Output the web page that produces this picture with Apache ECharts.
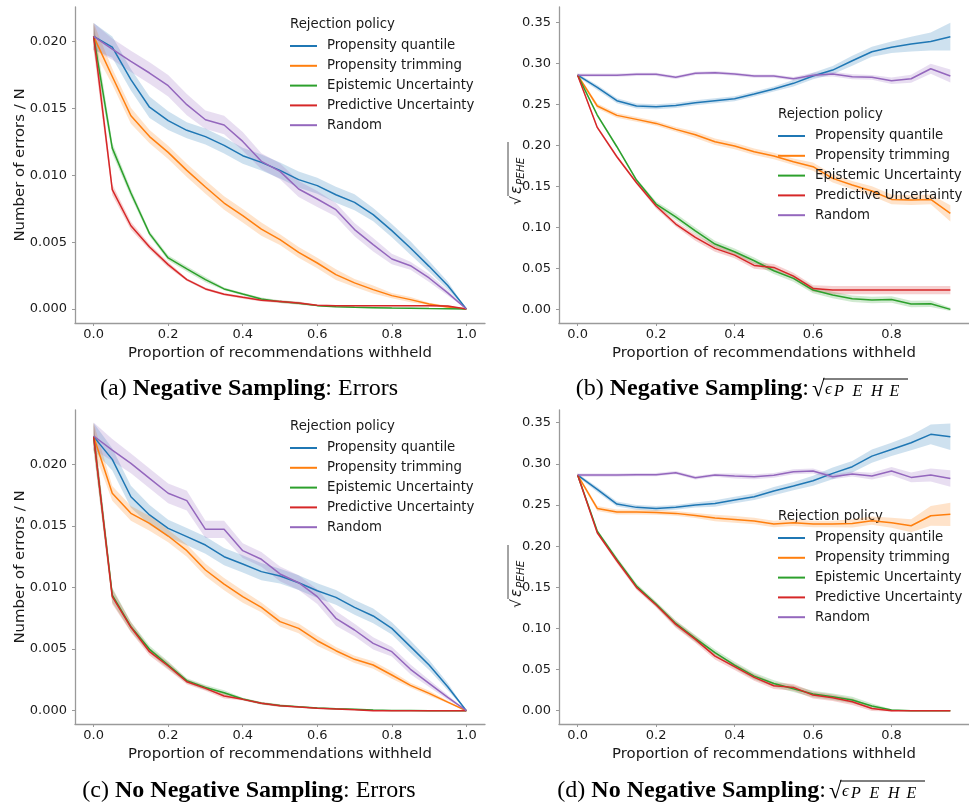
<!DOCTYPE html>
<html>
<head>
<meta charset="utf-8">
<title>Rejection policy</title>
<script src="https://cdn.jsdelivr.net/npm/echarts@6/dist/echarts.min.js"></script>
<style>
  html, body { margin: 0; padding: 0; background: #fff; }
  #chart { width: 969px; height: 811px; }
</style>
</head>
<body>
<div id="chart"></div>
<script>
// x positions
var xsErr = [0, 0.05, 0.1, 0.15, 0.2, 0.25, 0.3, 0.35, 0.4, 0.45, 0.5, 0.55, 0.6, 0.65, 0.7, 0.75, 0.8, 0.85, 0.9, 0.95, 1.0];
var xsPehe = [0, 0.05, 0.1, 0.15, 0.2, 0.25, 0.3, 0.35, 0.4, 0.45, 0.5, 0.55, 0.6, 0.65, 0.7, 0.75, 0.8, 0.85, 0.9, 0.95];

var policyNames = ['Propensity quantile', 'Propensity trimming', 'Epistemic Uncertainty', 'Predictive Uncertainty', 'Random'];

// tick labels
var xTicksErr = [0, 0.2, 0.4, 0.6, 0.8, 1.0];
var xTicksPehe = [0, 0.2, 0.4, 0.6, 0.8];
var yTicksErr = [0, 0.005, 0.01, 0.015, 0.02];
var yTicksPehe = [0, 0.05, 0.1, 0.15, 0.2, 0.25, 0.3, 0.35];

// (a) Negative Sampling: Errors
var aQuantile   = [0.0204, 0.0196, 0.01716, 0.0151, 0.0141, 0.01337, 0.0129, 0.01224, 0.01147, 0.01097, 0.01037, 0.00968, 0.00923, 0.00855, 0.00798, 0.00706, 0.00586, 0.00456, 0.00319, 0.00175, 0];
var aTrimming   = [0.0204, 0.0174, 0.01446, 0.0129, 0.01172, 0.01037, 0.00913, 0.00793, 0.00698, 0.00598, 0.00519, 0.00424, 0.00344, 0.00257, 0.00195, 0.00145, 0.001, 0.0007, 0.00037, 0.00015, 0];
var aEpistemic  = [0.0204, 0.01204, 0.00868, 0.00564, 0.00382, 0.003, 0.0022, 0.0015, 0.00112, 0.00075, 0.00055, 0.00042, 0.00025, 0.00017, 0.00012, 0.0001, 0.00007, 0.00005, 0.00003, 0.00002, 0];
var aPredictive = [0.0204, 0.00893, 0.00623, 0.00464, 0.00332, 0.0022, 0.0015, 0.0011, 0.00087, 0.00065, 0.00055, 0.00045, 0.00027, 0.00025, 0.00025, 0.00025, 0.00025, 0.00025, 0.00025, 0.00022, 0];
var aRandom     = [0.0204, 0.01945, 0.01853, 0.01766, 0.01671, 0.01529, 0.01416, 0.01377, 0.01254, 0.01105, 0.0103, 0.00898, 0.00823, 0.00743, 0.00594, 0.00481, 0.00374, 0.00324, 0.00232, 0.0012, 0];
// confidence band half widths
var aQuantileBand   = [0.001, 0.0008, 0.0008, 0.0008, 0.0007, 0.0006, 0.0006, 0.0006, 0.0006, 0.0006, 0.0006, 0.0006, 0.0006, 0.0006, 0.0006, 0.0005, 0.0005, 0.0005, 0.0004, 0.0003, 0];
var aTrimmingBand   = [0.001, 0.0006, 0.0006, 0.0005, 0.0005, 0.0005, 0.0005, 0.0005, 0.0005, 0.0005, 0.0004, 0.0004, 0.0004, 0.0004, 0.0003, 0.0003, 0.0002, 0.0002, 0.0001, 0.0001, 0];
var aEpistemicBand  = [0.001, 0.0004, 0.0003, 0.0002, 0.0002, 0.0002, 0.0002, 0.0001, 0.0001, 0.0001, 0.0001, 0.0001, 0.00005, 0.00005, 0.00005, 0.00005, 0.00005, 0.00005, 0.00003, 0.00002, 0];
var aPredictiveBand = [0.001, 0.0004, 0.0003, 0.0002, 0.0002, 0.0001, 0.0001, 0.0001, 0.0001, 0.0001, 0.0001, 0.0001, 0.00005, 0.00005, 0.00005, 0.00005, 0.00005, 0.00005, 0.00005, 0.00005, 0];
var aRandomBand     = [0.001, 0.0008, 0.0008, 0.0008, 0.0008, 0.0008, 0.0007, 0.0007, 0.0007, 0.0006, 0.0006, 0.0006, 0.0006, 0.0005, 0.0005, 0.0005, 0.0004, 0.0003, 0.0003, 0.0002, 0];

// (b) Negative Sampling: sqrt PEHE
var bQuantile   = [0.286, 0.271, 0.2548, 0.2483, 0.2475, 0.249, 0.2523, 0.2548, 0.2572, 0.263, 0.269, 0.276, 0.2849, 0.2922, 0.3036, 0.3146, 0.32, 0.324, 0.3272, 0.333];
var bTrimming   = [0.286, 0.2483, 0.2369, 0.232, 0.2271, 0.2198, 0.2133, 0.2047, 0.1994, 0.1925, 0.1872, 0.1803, 0.1742, 0.16, 0.1518, 0.1445, 0.1343, 0.1335, 0.1343, 0.1172];
var bEpistemic  = [0.286, 0.2373, 0.1986, 0.1579, 0.1286, 0.1131, 0.096, 0.0798, 0.0704, 0.0594, 0.0472, 0.0379, 0.0236, 0.0175, 0.013, 0.0114, 0.0122, 0.0065, 0.0069, 0.0];
var bPredictive = [0.286, 0.2222, 0.1864, 0.1547, 0.1262, 0.1042, 0.0879, 0.0745, 0.0663, 0.0537, 0.0513, 0.0407, 0.0256, 0.0236, 0.0236, 0.0236, 0.0236, 0.0236, 0.0236, 0.0236];
var bRandom     = [0.286, 0.286, 0.286, 0.287, 0.287, 0.2833, 0.2882, 0.289, 0.2873, 0.2849, 0.2849, 0.2816, 0.286, 0.2873, 0.2841, 0.2833, 0.2792, 0.2816, 0.2938, 0.2849];
var bQuantileBand   = [0.002, 0.003, 0.003, 0.003, 0.003, 0.003, 0.003, 0.003, 0.003, 0.003, 0.003, 0.004, 0.004, 0.005, 0.006, 0.006, 0.007, 0.009, 0.011, 0.017];
var bTrimmingBand   = [0.002, 0.003, 0.003, 0.003, 0.003, 0.003, 0.004, 0.004, 0.004, 0.004, 0.004, 0.004, 0.005, 0.005, 0.005, 0.006, 0.006, 0.006, 0.006, 0.01];
var bEpistemicBand  = [0.002, 0.002, 0.002, 0.002, 0.003, 0.004, 0.004, 0.004, 0.004, 0.004, 0.004, 0.004, 0.004, 0.004, 0.004, 0.004, 0.004, 0.004, 0.004, 0.002];
var bPredictiveBand = [0.002, 0.002, 0.002, 0.002, 0.003, 0.003, 0.004, 0.004, 0.004, 0.004, 0.004, 0.004, 0.004, 0.005, 0.005, 0.005, 0.005, 0.005, 0.005, 0.005];
var bRandomBand     = [0.002, 0.002, 0.002, 0.002, 0.002, 0.002, 0.002, 0.002, 0.002, 0.002, 0.002, 0.002, 0.003, 0.003, 0.003, 0.003, 0.004, 0.005, 0.006, 0.008];

// (c) No Negative Sampling: Errors
var cQuantile   = [0.02225, 0.0204, 0.01737, 0.01589, 0.0148, 0.01413, 0.01345, 0.0125, 0.01191, 0.01129, 0.01093, 0.01039, 0.00974, 0.0092, 0.00839, 0.00769, 0.00668, 0.0052, 0.00371, 0.00195, 0];
var cTrimming   = [0.02225, 0.01765, 0.01602, 0.01521, 0.01418, 0.01299, 0.01142, 0.01028, 0.00926, 0.00839, 0.00723, 0.00668, 0.00568, 0.00487, 0.00417, 0.00371, 0.0029, 0.00206, 0.00141, 0.0007, 0];
var cEpistemic  = [0.02225, 0.00939, 0.00682, 0.00498, 0.00371, 0.00244, 0.00189, 0.00146, 0.00095, 0.0006, 0.00043, 0.00032, 0.00022, 0.00016, 0.00011, 0.00005, 0.00002, 0.00001, 0, 0, 0];
var cPredictive = [0.02225, 0.00926, 0.00677, 0.00479, 0.00363, 0.00235, 0.00181, 0.00119, 0.00092, 0.0006, 0.00041, 0.0003, 0.00019, 0.00014, 0.00008, 0, 0, 0, 0, 0, 0];
var cRandom     = [0.0223, 0.02116, 0.02008, 0.01886, 0.01765, 0.01705, 0.01472, 0.01472, 0.01299, 0.01229, 0.0111, 0.01039, 0.00926, 0.0075, 0.00655, 0.00547, 0.00479, 0.00336, 0.00222, 0.00108, 0];
var cQuantileBand   = [0.0011, 0.0009, 0.0009, 0.0008, 0.0007, 0.0007, 0.0007, 0.0007, 0.0007, 0.0007, 0.0006, 0.0006, 0.0006, 0.0006, 0.0006, 0.0006, 0.0005, 0.0005, 0.0004, 0.0003, 0];
var cTrimmingBand   = [0.0011, 0.0006, 0.0006, 0.0006, 0.0005, 0.0005, 0.0005, 0.0005, 0.0005, 0.0004, 0.0004, 0.0004, 0.0004, 0.0003, 0.0003, 0.0003, 0.0003, 0.0002, 0.0002, 0.0001, 0];
var cEpistemicBand  = [0.0011, 0.0006, 0.0004, 0.0003, 0.0003, 0.0002, 0.0002, 0.0002, 0.0001, 0.0001, 0.0001, 0.00005, 0.00005, 0.00005, 0.00005, 0.00003, 0.00002, 0.00001, 0, 0, 0];
var cPredictiveBand = [0.0011, 0.0006, 0.0004, 0.0003, 0.0003, 0.0002, 0.0002, 0.0002, 0.0001, 0.0001, 0.0001, 0.00005, 0.00005, 0.00005, 0.00003, 0, 0, 0, 0, 0, 0];
var cRandomBand     = [0.0011, 0.0009, 0.0008, 0.0008, 0.0008, 0.0008, 0.0007, 0.0007, 0.0006, 0.0006, 0.0006, 0.0006, 0.0006, 0.0006, 0.0005, 0.0005, 0.0004, 0.0004, 0.0003, 0.0002, 0];

// (d) No Negative Sampling: sqrt PEHE
var dQuantile   = [0.2864, 0.2689, 0.2511, 0.2471, 0.2458, 0.2471, 0.2499, 0.2519, 0.256, 0.26, 0.2669, 0.273, 0.2795, 0.2884, 0.2965, 0.3094, 0.3175, 0.3256, 0.3358, 0.3329];
var dTrimming   = [0.2864, 0.2458, 0.2414, 0.2414, 0.241, 0.2398, 0.2373, 0.2341, 0.2325, 0.2305, 0.2268, 0.2284, 0.2268, 0.2268, 0.2276, 0.2309, 0.2284, 0.2248, 0.2369, 0.2386];
var dEpistemic  = [0.2864, 0.2183, 0.1839, 0.1515, 0.1296, 0.1061, 0.0879, 0.0705, 0.0555, 0.0421, 0.0332, 0.0267, 0.0203, 0.017, 0.013, 0.0057, 0.0008, 0, 0, 0];
var dPredictive = [0.2864, 0.2163, 0.1823, 0.1499, 0.1284, 0.1049, 0.0867, 0.0664, 0.0535, 0.0405, 0.0304, 0.0284, 0.019, 0.0158, 0.0109, 0.0028, 0, 0, 0, 0];
var dRandom     = [0.2864, 0.2864, 0.2864, 0.2868, 0.2868, 0.2892, 0.2831, 0.2864, 0.2851, 0.2843, 0.286, 0.2904, 0.2912, 0.2843, 0.2876, 0.2851, 0.2912, 0.2835, 0.2864, 0.2823];
var dQuantileBand   = [0.002, 0.003, 0.003, 0.003, 0.003, 0.003, 0.003, 0.004, 0.004, 0.004, 0.005, 0.005, 0.006, 0.007, 0.007, 0.008, 0.008, 0.009, 0.012, 0.016];
var dTrimmingBand   = [0.002, 0.003, 0.003, 0.003, 0.003, 0.003, 0.003, 0.004, 0.004, 0.004, 0.004, 0.004, 0.004, 0.004, 0.005, 0.005, 0.006, 0.008, 0.012, 0.014];
var dEpistemicBand  = [0.002, 0.002, 0.003, 0.003, 0.003, 0.004, 0.004, 0.004, 0.004, 0.004, 0.004, 0.004, 0.004, 0.004, 0.004, 0.003, 0.001, 0, 0, 0];
var dPredictiveBand = [0.002, 0.002, 0.003, 0.003, 0.003, 0.004, 0.004, 0.004, 0.004, 0.004, 0.004, 0.004, 0.004, 0.004, 0.004, 0.003, 0.001, 0, 0, 0];
var dRandomBand     = [0.002, 0.002, 0.002, 0.002, 0.002, 0.002, 0.002, 0.002, 0.003, 0.003, 0.003, 0.003, 0.003, 0.003, 0.003, 0.004, 0.005, 0.006, 0.008, 0.01];

var colors = ['#1f77b4', '#ff7f0e', '#2ca02c', '#d62728', '#9467bd'];
var SANS = 'DejaVu Sans';
var SERIF = 'Liberation Serif';

var panels = [
  { xs: xsErr, lines: [aQuantile, aTrimming, aEpistemic, aPredictive, aRandom],
    bands: [aQuantileBand, aTrimmingBand, aEpistemicBand, aPredictiveBand, aRandomBand] },
  { xs: xsPehe, lines: [bQuantile, bTrimming, bEpistemic, bPredictive, bRandom],
    bands: [bQuantileBand, bTrimmingBand, bEpistemicBand, bPredictiveBand, bRandomBand] },
  { xs: xsErr, lines: [cQuantile, cTrimming, cEpistemic, cPredictive, cRandom],
    bands: [cQuantileBand, cTrimmingBand, cEpistemicBand, cPredictiveBand, cRandomBand] },
  { xs: xsPehe, lines: [dQuantile, dTrimming, dEpistemic, dPredictive, dRandom],
    bands: [dQuantileBand, dTrimmingBand, dEpistemicBand, dPredictiveBand, dRandomBand] }
];

var grids = [
  { left: 75, top: 7, width: 410, height: 316 },
  { left: 559, top: 7, width: 414, height: 316 },
  { left: 75, top: 410, width: 410, height: 314 },
  { left: 559, top: 410, width: 414, height: 314 }
];

var axisGray = '#9a9a9a';
var textColor = '#1a1a1a';

function xAxisFor(i) {
  var err = (i % 2 === 0);
  return {
    type: 'value', gridIndex: i,
    min: err ? -0.05 : -0.0475, max: err ? 1.05 : 0.9975,
    splitLine: { show: false },
    axisLine: { show: true, onZero: false, lineStyle: { color: axisGray, width: 1.3 } },
    axisTick: { show: true, length: 3, lineStyle: { color: axisGray, width: 1 },
                customValues: err ? xTicksErr : xTicksPehe },
    axisLabel: { color: textColor, fontFamily: SANS, fontSize: 13, margin: 5,
                 customValues: err ? xTicksErr : xTicksPehe,
                 formatter: function (v) { return v.toFixed(1); } },
    name: 'Proportion of recommendations withheld',
    nameLocation: 'middle', nameGap: 22.5, nameMoveOverlap: false,
    nameTextStyle: { color: textColor, fontFamily: SANS, fontSize: 14.9 }
  };
}

var yRanges = [[-0.00105, 0.0226], [-0.0166, 0.3692], [-0.00108, 0.02441], [-0.0161, 0.3654]];

function yAxisFor(i) {
  var err = (i % 2 === 0);
  var ax = {
    type: 'value', gridIndex: i,
    min: yRanges[i][0], max: yRanges[i][1],
    splitLine: { show: false },
    axisLine: { show: true, onZero: false, lineStyle: { color: axisGray, width: 1.3 } },
    axisTick: { show: true, length: 3, lineStyle: { color: axisGray, width: 1 },
                customValues: err ? yTicksErr : yTicksPehe },
    axisLabel: { color: textColor, fontFamily: SANS, fontSize: 13, margin: 8,
                 customValues: err ? yTicksErr : yTicksPehe,
                 formatter: function (v) { return err ? v.toFixed(3) : v.toFixed(2); } }
  };
  if (err) {
    ax.name = 'Number of errors / N';
    ax.nameLocation = 'middle';
    ax.nameGap = 47;
    ax.nameMoveOverlap = false;
    ax.nameTextStyle = { color: textColor, fontFamily: SANS, fontSize: 14.9 };
  }
  return ax;
}

function bandSeries(gi, xs, mid, half, color) {
  return {
    type: 'custom', xAxisIndex: gi, yAxisIndex: gi, silent: true, z: 1,
    clip: true,
    data: [[xs[0], mid[0]]],
    renderItem: function (params, api) {
      var pts = [];
      for (var k = 0; k < xs.length; k++) pts.push(api.coord([xs[k], mid[k] + half[k]]));
      for (var k2 = xs.length - 1; k2 >= 0; k2--) pts.push(api.coord([xs[k2], mid[k2] - half[k2]]));
      return { type: 'polygon', shape: { points: pts }, style: { fill: color, opacity: 0.22 } };
    }
  };
}

var series = [];
panels.forEach(function (p, gi) {
  p.lines.forEach(function (vals, si) {
    series.push(bandSeries(gi, p.xs, vals, p.bands[si], colors[si]));
  });
  p.lines.forEach(function (vals, si) {
    series.push({
      name: policyNames[si], type: 'line', xAxisIndex: gi, yAxisIndex: gi, z: 3,
      symbol: 'none', smooth: false, silent: true,
      color: colors[si],
      lineStyle: { width: 1.5, color: colors[si] },
      data: p.xs.map(function (x, k) { return [x, vals[k]]; })
    });
  });
});

var legendPos = [[290, 39], [778, 129], [290, 441], [778, 531]];
var legends = legendPos.map(function (pos) {
  return {
    left: pos[0], top: pos[1], orient: 'vertical', padding: 0,
    data: policyNames, icon: 'rect', itemWidth: 27, itemHeight: 2, itemGap: 5.8,
    selectedMode: false,
    textStyle: { color: textColor, fontFamily: SANS, fontSize: 13.3, lineHeight: 14, padding: [0, 0, 0, 5] }
  };
});

var graphics = [];
// legend titles
[[290, 25], [778, 115], [290, 427], [778, 517]].forEach(function (pos) {
  graphics.push({ type: 'text', x: pos[0], y: pos[1],
    style: { text: 'Rejection policy', fill: textColor, font: '13.3px "' + SANS + '"', verticalAlign: 'middle' } });
});

// y label sqrt(eps_PEHE) for (b) and (d)
[[517, 172], [517, 575]].forEach(function (pos) {
  graphics.push({
    type: 'group', x: pos[0], y: pos[1], rotation: Math.PI / 2,
    children: [
      { type: 'text', x: -33, y: 0, style: { text: '√', fill: textColor, font: '14px "' + SANS + '"', verticalAlign: 'middle' } },
      { type: 'line', shape: { x1: -24, y1: -9, x2: 30, y2: -9 }, style: { stroke: textColor, lineWidth: 0.8 } },
      { type: 'text', x: -22, y: 0, style: { text: 'ε', fill: textColor, font: 'italic 15px "' + SANS + '"', verticalAlign: 'middle' } },
      { type: 'text', x: -13, y: 4, style: { text: 'PEHE', fill: textColor, font: 'italic 10.5px "' + SANS + '"', verticalAlign: 'middle' } }
    ]
  });
});

// captions
var capRich = {
  n: { fontFamily: SERIF, fontSize: 24, color: '#000' },
  b: { fontFamily: SERIF, fontSize: 24, fontWeight: 'bold', color: '#000' }
};
graphics.push({ type: 'text', x: 249, y: 389,
  style: { text: '{n|(a) }{b|Negative Sampling}{n|: Errors}', rich: capRich, align: 'center', verticalAlign: 'middle' } });
graphics.push({ type: 'text', x: 249, y: 791,
  style: { text: '{n|(c) }{b|No Negative Sampling}{n|: Errors}', rich: capRich, align: 'center', verticalAlign: 'middle' } });
graphics.push({ type: 'text', x: 809, y: 389,
  style: { text: '{n|(b) }{b|Negative Sampling}{n|:}', rich: capRich, align: 'right', verticalAlign: 'middle' } });
graphics.push({ type: 'text', x: 826, y: 791,
  style: { text: '{n|(d) }{b|No Negative Sampling}{n|:}', rich: capRich, align: 'right', verticalAlign: 'middle' } });

function sqrtPehe(x0, yc) {
  var kids = [
    { type: 'text', x: x0, y: yc + 1, style: { text: '√', fill: '#000', font: '23px "' + SERIF + '"', verticalAlign: 'middle' } },
    { type: 'line', shape: { x1: x0 + 11, y1: yc - 10, x2: x0 + 96, y2: yc - 10 }, style: { stroke: '#000', lineWidth: 1 } },
    { type: 'text', x: x0 + 13, y: yc + 1, style: { text: 'ϵ', fill: '#000', font: 'italic 17px "' + SERIF + '"', verticalAlign: 'middle' } }
  ];
  var letters = ['P', 'E', 'H', 'E'];
  letters.forEach(function (ch, k) {
    kids.push({ type: 'text', x: x0 + 22 + k * 18.5, y: yc + 3,
      style: { text: ch, fill: '#000', font: 'italic 16px "' + SERIF + '"', verticalAlign: 'middle' } });
  });
  return kids;
}
graphics = graphics.concat(sqrtPehe(812, 389), sqrtPehe(829, 791));

var chart = echarts.init(document.getElementById('chart'), null, { renderer: 'canvas' });
chart.setOption({
  animation: false,
  backgroundColor: '#fff',
  grid: grids,
  xAxis: [0, 1, 2, 3].map(xAxisFor),
  yAxis: [0, 1, 2, 3].map(yAxisFor),
  legend: legends,
  series: series,
  graphic: graphics
});
</script>
</body>
</html>
